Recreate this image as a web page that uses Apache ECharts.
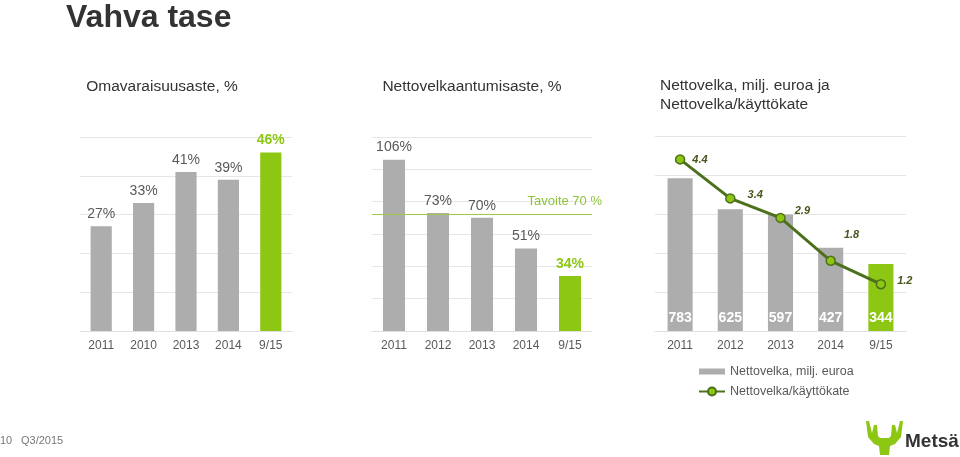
<!DOCTYPE html>
<html>
<head>
<meta charset="utf-8">
<script src="https://cdn.jsdelivr.net/npm/echarts@6/dist/echarts.min.js"></script>
<style>html,body{margin:0;padding:0;background:#fff;}#c{width:960px;height:457px;}</style>
</head>
<body>
<div id="c"></div>
<script>
// ---- data ----
const cats1 = ['2011', '2010', '2013', '2014', '9/15'];
const equityRatio = [27, 33, 41, 39, 46];
const cats2 = ['2011', '2012', '2013', '2014', '9/15'];
const gearing = [106, 73, 70, 51, 34];
const gearingTarget = 72;
const targetLabel = 'Tavoite 70 %';
const cats3 = ['2011', '2012', '2013', '2014', '9/15'];
const netDebt = [783, 625, 597, 427, 344];
const netDebtEbitda = [4.4, 3.4, 2.9, 1.8, 1.2];
const seriesNames = ['Nettovelka, milj. euroa', 'Nettovelka/käyttökate'];

// ---- styles ----
const GREY = '#adadad', GREEN = '#8dc714', DARKGREEN = '#4d701c', TXT = '#595959';
const FONT = '"Liberation Sans", Arial, sans-serif';
const lineLabelOffsets = [[0, 1], [5, -3], [2, -7], [1, -26], [4, -3]];

function barItems(vals) {
  return vals.map((v, i) => {
    const last = i === vals.length - 1;
    return {
      value: v,
      itemStyle: { color: last ? GREEN : GREY },
      label: last ? { color: GREEN, fontWeight: 'bold' } : {}
    };
  });
}

const chart = echarts.init(document.getElementById('c'));
const gridLine = { show: true, lineStyle: { color: '#e6e6e6', width: 1 } };
function xAx(idx, cats) {
  return {
    type: 'category', gridIndex: idx, data: cats,
    axisTick: { show: false },
    axisLine: { show: true, lineStyle: { color: '#e0e0e0' } },
    axisLabel: { color: TXT, fontSize: 12, fontFamily: FONT, margin: 9 }
  };
}
function yAx(idx, max, interval, showSplit) {
  return {
    type: 'value', gridIndex: idx, min: 0, max: max, interval: interval,
    axisLabel: { show: false }, axisTick: { show: false }, axisLine: { show: false },
    splitLine: showSplit ? gridLine : { show: false }
  };
}
function txt(text, x, y, size, color, align, weight) {
  return {
    type: 'text', x: x, y: y, silent: true,
    style: {
      text: text, fill: color, font: (weight || 'normal') + ' ' + size + 'px ' + FONT,
      textAlign: align, align: align, textVerticalAlign: 'middle', verticalAlign: 'middle'
    }
  };
}

const option = {
  backgroundColor: '#fff',
  animation: false,
  textStyle: { fontFamily: FONT },
  grid: [
    { left: 80, top: 137, width: 212, height: 194 },
    { left: 372, top: 137, width: 220, height: 194 },
    { left: 655, top: 136, width: 251, height: 195 }
  ],
  xAxis: [xAx(0, cats1), xAx(1, cats2), xAx(2, cats3)],
  yAxis: [yAx(0, 50, 10, true), yAx(1, 120, 20, true), yAx(2, 1000, 200, true), yAx(2, 5, 1, false)],
  legend: {
    orient: 'vertical', left: 693, top: 360, itemWidth: 26, itemHeight: 10, itemGap: 7,
    textStyle: { color: TXT, fontSize: 12.5, fontFamily: FONT },
    data: [
      { name: seriesNames[0], icon: 'path://M0,0H26V6H0Z' },
      { name: seriesNames[1] }
    ]
  },
  series: [
    {
      type: 'bar', xAxisIndex: 0, yAxisIndex: 0, barWidth: '50%',
      data: barItems(equityRatio),
      label: { show: true, position: 'top', distance: 5, formatter: '{c}%', color: TXT, fontSize: 14, fontFamily: FONT }
    },
    {
      type: 'bar', xAxisIndex: 1, yAxisIndex: 1, barWidth: '50%',
      data: barItems(gearing),
      label: { show: true, position: 'top', distance: 5, formatter: '{c}%', color: TXT, fontSize: 14, fontFamily: FONT },
      markLine: {
        silent: true, symbol: 'none',
        lineStyle: { color: '#9cc94a', width: 1.2, type: 'solid' },
        label: { show: true, position: 'insideEndTop', formatter: targetLabel, color: '#8dc33a', fontSize: 13, fontFamily: FONT, offset: [15, -2] },
        data: [{ yAxis: gearingTarget }]
      }
    },
    {
      name: seriesNames[0], type: 'bar', xAxisIndex: 2, yAxisIndex: 2, barWidth: '50%',
      data: netDebt.map((v, i) => ({ value: v, itemStyle: { color: i === netDebt.length - 1 ? GREEN : GREY } })),
      itemStyle: { color: GREY },
      label: { show: true, position: 'insideBottom', distance: 6, color: '#fff', fontWeight: 'bold', fontSize: 14, fontFamily: FONT }
    },
    {
      name: seriesNames[1], type: 'line', xAxisIndex: 2, yAxisIndex: 3,
      symbol: 'circle', symbolSize: 9,
      lineStyle: { color: DARKGREEN, width: 3 },
      itemStyle: { color: GREEN, borderColor: DARKGREEN, borderWidth: 1.5 },
      data: netDebtEbitda.map((v, i) => ({ value: v, label: { offset: lineLabelOffsets[i] } })),
      label: { show: true, position: 'right', distance: 7, color: '#46561c', fontStyle: 'italic', fontWeight: 'bold', fontSize: 11, fontFamily: FONT, formatter: p => p.value.toFixed(1) }
    }
  ],
  graphic: [
    txt('Vahva tase', 66, 18, 32, '#333', 'left', 'bold'),
    txt('Omavaraisuusaste, %', 162, 87, 15.5, '#333', 'center'),
    txt('Nettovelkaantumisaste, %', 472, 87, 15.5, '#333', 'center'),
    txt('Nettovelka, milj. euroa ja', 660, 86, 15.5, '#333', 'left'),
    txt('Nettovelka/käyttökate', 660, 105, 15.5, '#333', 'left'),
    txt('10', 0, 441, 11, '#777', 'left'),
    txt('Q3/2015', 21, 441, 11, '#777', 'left'),
    {
      type: 'polygon', silent: true,
      shape: { points: [[866,421],[869,421],[872,433],[874,425],[877,425],[878,436],[880,438],[889,438],[891,436],[892,425],[895,425],[897,433],[900,421],[903,421],[901,437],[895,444],[890,446],[889,455],[880,455],[879,446],[874,444],[868,437]] },
      style: { fill: '#8dc714' }
    },
    txt('Metsä', 905, 442, 19, '#333', 'left', 'bold')
  ]
};
chart.setOption(option);
</script>
</body>
</html>
